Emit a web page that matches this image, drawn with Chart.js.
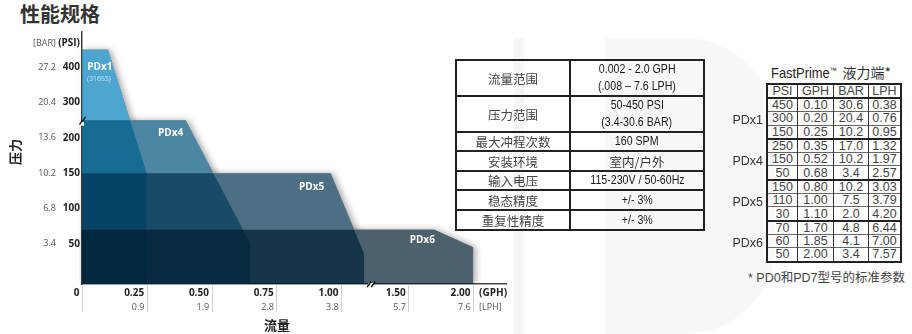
<!DOCTYPE html>
<html>
<head>
<meta charset="utf-8">
<script src="https://cdn.jsdelivr.net/npm/chart.js@4/dist/chart.umd.min.js"></script>
<style>
html,body{margin:0;padding:0;background:#fff;width:912px;height:334px;overflow:hidden;position:relative;font-family:"Liberation Sans",Arial,sans-serif;}
.bgbar{position:absolute;left:514px;top:38px;width:10px;height:296px;background:#f6f6f6;}
.bgd{position:absolute;left:605px;top:38px;width:170px;height:296px;background:#f8f8f8;border-radius:0 90px 90px 0;}
h1{position:absolute;left:20px;top:0;margin:0;font:bold 20px/28px "Noto Sans CJK SC",sans-serif;color:#333;}
#wrap{position:absolute;left:0;top:0;width:515px;height:334px;}
#spec{position:absolute;left:455px;top:59px;border-collapse:collapse;border:2px solid #222;}
#spec td{border:2px solid #222;padding:0;text-align:center;vertical-align:middle;}
#spec td.k{width:112px;font:12.5px/17px "Noto Sans CJK SC",sans-serif;color:#444;}
#spec td.v{width:132px;font:12.5px/17px "Liberation Sans",sans-serif;color:#1a1a1a;}
#spec td.v.cjk{font-family:"Noto Sans CJK SC",sans-serif;font-size:12.5px;color:#333;}
.narrow{display:inline-block;transform:scaleX(0.85);transform-origin:50% 50%;white-space:nowrap;}
#fptitle{position:absolute;left:771px;top:62px;white-space:nowrap;font:15px/20px "Liberation Sans",sans-serif;color:#222;}
#fptitle .fpn{display:inline-block;transform:scaleX(0.86);transform-origin:0 50%;margin-right:-9px;}
#fptitle sup{font-size:8px;vertical-align:top;position:relative;top:-2px;}
#fptitle span.cj{font:14px/20px "Noto Sans CJK SC",sans-serif;color:#333;}
#fp{position:absolute;left:766px;top:83px;border-collapse:collapse;border:2px solid #222;}
#fp th,#fp td{padding:0;text-align:center;font:12.5px/12px "Liberation Sans",sans-serif;color:#444;border-left:1px solid #333;border-right:1px solid #333;border-top:1px solid #666;height:12.3px;font-weight:normal;}
#fp th{border-bottom:2px solid #222;height:12px;}
#fp tr.grp td{border-top:2px solid #222;}
.fpm{position:absolute;width:40px;left:723px;text-align:right;font:12.5px/14px "Liberation Sans",sans-serif;color:#333;}
#note{position:absolute;left:748px;top:269px;white-space:nowrap;font:12.5px/16px "Liberation Sans","Noto Sans CJK SC",sans-serif;color:#444;}
#note span{font-family:"Noto Sans CJK SC",sans-serif;}
</style>
</head>
<body>
<div class="bgbar"></div>
<div class="bgd"></div>
<h1>性能规格</h1>
<div id="wrap"><canvas id="c" width="515" height="334"></canvas></div>
<table id="spec"></table>
<div id="fptitle"><span class="fpn">FastPrime<sup>™</sup></span> <span class="cj">液力端*</span></div>
<table id="fp"></table>
<div id="note">* PD0<span>和</span>PD7<span>型号的标准参数</span></div>
<script>
// ---- chart data ----
const gphTicks = [0, 0.25, 0.5, 0.75, 1.0, 1.5, 2.0];
const gphLabels = ['0', '0.25', '0.50', '0.75', '1.00', '1.50', '2.00'];
const lphLabels = ['', '0.9', '1.9', '2.8', '3.8', '5.7', '7.6'];
const psiTicks = [50, 100, 150, 200, 300, 400];
const psiLabels = ['50', '100', '150', '200', '300', '400'];
const barLabels = ['3.4', '6.8', '10.2', '13.6', '20.4', '27.2'];

const seriesNames = ['PDx1', 'PDx4', 'PDx5', 'PDx6'];
const pdx1Flow = [0, 0.10, 0.25];
const pdx1Psi = [450, 450, 150];
const pdx4Flow = [0, 0.40, 0.65];
const pdx4Psi = [250, 250, 50];
const pdx5Flow = [0, 0.96, 1.09];
const pdx5Psi = [150, 150, 35];
const pdx6Flow = [0, 1.70, 2.00];
const pdx6Psi = [70, 70, 45];

// ---- table data ----
const specLabels = ['流量范围', '压力范围', '最大冲程次数', '安装环境', '输入电压', '稳态精度', '重复性精度'];
const specValues = [['0.002 - 2.0 GPH', '(.008 – 7.6 LPH)'], ['50-450 PSI', '(3.4-30.6 BAR)'], ['160 SPM'], ['室内/户外'], ['115-230V / 50-60Hz'], ['+/- 3%'], ['+/- 3%']];
const fpHeader = ['PSI', 'GPH', 'BAR', 'LPH'];
const fpPsi = ['450', '300', '150', '250', '150', '50', '150', '110', '30', '70', '60', '50'];
const fpGph = ['0.10', '0.20', '0.25', '0.35', '0.52', '0.68', '0.80', '1.00', '1.10', '1.70', '1.85', '2.00'];
const fpBar = ['30.6', '20.4', '10.2', '17.0', '10.2', '3.4', '10.2', '7.5', '2.0', '4.8', '4.1', '3.4'];
const fpLph = ['0.38', '0.76', '0.95', '1.32', '1.97', '2.57', '3.03', '3.79', '4.20', '6.44', '7.00', '7.57'];

// ---- styling ----
const fills = ['rgba(0,128,188,0.7)', 'rgba(0,83,123,0.7)', 'rgba(0,50,80,0.7)', 'rgba(0,28,49,0.7)'];
const nameOffsets = [[-8, 18], [-15, 13], [-19, 14], [-12, 11]];
const rowHeights = [36, 35, 19, 20, 19, 20, 20];

// Broken axes: above 200 PSI the pressure axis runs at half scale;
// flow skips 1.1–1.2 GPH and runs at half scale beyond it.
function psiToAxis(p) { return p <= 200 ? p : 200 + (p - 200) / 2; }
function gphToAxis(g) {
  if (g <= 1.1) return g;
  if (g < 1.2) return 1.1 + (g - 1.1) * 0.1;
  return 1.11 + (g - 1.2) / 2;
}
const Y_MIN = -7, Y_MAX = psiToAxis(500), X_MAX = 1.637;

function toPoints(flow, psi) { return flow.map((f, i) => ({ x: gphToAxis(f), y: psiToAxis(psi[i]) })); }
const series = [toPoints(pdx1Flow, pdx1Psi), toPoints(pdx4Flow, pdx4Psi), toPoints(pdx5Flow, pdx5Psi), toPoints(pdx6Flow, pdx6Psi)];

const SANS = "'Open Sans', sans-serif";

// soft shadow on the outside of the filled regions, plus annotations
const decor = {
  id: 'decor',
  beforeDatasetsDraw(chart) {
    const a = chart.chartArea;
    const off = document.createElement('canvas');
    off.width = chart.width; off.height = chart.height;
    const o = off.getContext('2d');
    const polys = chart.data.datasets.map((d, i) => {
      const pts = chart.getDatasetMeta(i).data.map(p => [p.x, p.y]);
      pts.push([pts[pts.length - 1][0], a.bottom], [pts[0][0], a.bottom]);
      return pts;
    });
    const trace = p => { o.beginPath(); p.forEach((q, k) => k ? o.lineTo(q[0], q[1]) : o.moveTo(q[0], q[1])); o.closePath(); };
    o.save();
    o.beginPath(); o.rect(0, 0, chart.width, a.bottom); o.clip();
    o.shadowColor = 'rgba(0,0,0,0.32)'; o.shadowBlur = 6; o.shadowOffsetX = 3; o.fillStyle = '#000';
    polys.forEach(p => { trace(p); o.fill(); });
    o.restore();
    o.globalCompositeOperation = 'destination-out';
    polys.forEach(p => { trace(p); o.fill(); });
    chart.ctx.drawImage(off, 0, 0);
  },
  afterDatasetsDraw(chart) {
    const ctx = chart.ctx;
    ctx.save();
    ctx.textAlign = 'center'; ctx.textBaseline = 'middle';
    chart.data.datasets.forEach((d, i) => {
      const corner = chart.getDatasetMeta(i).data[1];
      ctx.fillStyle = '#fff';
      ctx.font = 'bold 10px ' + SANS;
      ctx.fillText(d.label, corner.x + nameOffsets[i][0], corner.y + nameOffsets[i][1]);
      if (i === 0) {
        ctx.fillStyle = 'rgba(225,238,246,0.85)';
        ctx.font = '7px ' + SANS;
        ctx.fillText('(316SS)', corner.x - 9, corner.y + 29);
      }
    });
    ctx.restore();
  },
  afterDraw(chart) {
    const ctx = chart.ctx, a = chart.chartArea, x = chart.scales.x, y = chart.scales.y, y2 = chart.scales.y2;
    ctx.save();
    // tick marks under the flow axis
    ctx.strokeStyle = '#d2d2d2'; ctx.lineWidth = 1;
    gphTicks.forEach(g => {
      const px = Math.round(x.getPixelForValue(gphToAxis(g))) + 0.5;
      ctx.beginPath(); ctx.moveTo(px, a.bottom + 1.5); ctx.lineTo(px, a.bottom + 28); ctx.stroke();
    });
    // axis breaks
    ctx.strokeStyle = '#111'; ctx.lineWidth = 1.3;
    const by = y.getPixelForValue(psiToAxis(240));
    ctx.fillStyle = '#fff'; ctx.fillRect(a.left - 2, by - 2, 4, 4);
    [[-3, 0], [0, -3]].forEach(([dx, dy]) => {
      ctx.beginPath(); ctx.moveTo(a.left - 2.5 + dx + 3, by + 1 + dy); ctx.lineTo(a.left + 0.5 + dx + 3, by - 4 + dy); ctx.stroke();
    });
    const bx = x.getPixelForValue(gphToAxis(1.15)) + 2;
    ctx.fillStyle = '#fff'; ctx.fillRect(bx - 2, a.bottom - 1, 5, 3);
    [0, 4].forEach(dx => {
      ctx.beginPath(); ctx.moveTo(bx - 3 + dx, a.bottom + 3); ctx.lineTo(bx + 1 + dx, a.bottom - 2.5); ctx.stroke();
    });
    // unit captions
    ctx.textBaseline = 'middle';
    ctx.textAlign = 'left';
    const ux = x.getPixelForValue(gphToAxis(2.0)) + 6;
    ctx.fillStyle = '#222'; ctx.font = 'bold 10px ' + SANS; ctx.fillText('(GPH)', ux, a.bottom + 9);
    ctx.fillStyle = '#555'; ctx.font = '9px ' + SANS; ctx.fillText('[LPH]', ux, a.bottom + 23);
    ctx.textAlign = 'right';
    ctx.fillStyle = '#222'; ctx.font = 'bold 10px ' + SANS; ctx.fillText('(PSI)', a.left - 2, a.top + 11);
    ctx.fillStyle = '#555'; ctx.font = '9px ' + SANS; ctx.fillText('[BAR]', y2.right, a.top + 11);
    // axis titles
    ctx.fillStyle = '#222'; ctx.textAlign = 'center';
    ctx.font = 'bold 13px "Noto Sans CJK SC", sans-serif';
    ctx.fillText('流量', (a.left + a.right) / 2 - 17, a.bottom + 41);
    ctx.translate(15, 152); ctx.rotate(-Math.PI / 2);
    ctx.fillText('压力', 0, 0);
    ctx.restore();
  }
};

const flowTicks = s => { s.ticks = gphTicks.map(g => ({ value: gphToAxis(g) })); };
const pressTicks = s => { s.ticks = psiTicks.map(p => ({ value: psiToAxis(p) })); };
const noGrid = { display: false, drawTicks: false };

new Chart(document.getElementById('c'), {
  type: 'scatter',
  data: {
    datasets: series.map((pts, i) => ({
      label: seriesNames[i], data: pts, showLine: true, fill: 'start',
      backgroundColor: fills[i], borderColor: 'transparent', borderWidth: 1,
      pointRadius: 0, order: 4 - i, tension: 0
    }))
  },
  options: {
    responsive: false, animation: false, devicePixelRatio: 1,
    layout: { padding: { top: 32, right: 9, left: 0, bottom: 0 } },
    plugins: { legend: { display: false }, tooltip: { enabled: false } },
    scales: {
      x: {
        type: 'linear', position: 'bottom', min: 0, max: X_MAX, weight: 0, z: 1,
        afterBuildTicks: flowTicks,
        ticks: { autoSkip: false, maxRotation: 0, align: 'end', padding: 3, color: '#222', font: { family: SANS, weight: 'bold', size: 10 }, callback: (v, i) => gphLabels[i] + ' ' },
        grid: noGrid, border: { display: true, color: '#444', width: 1.5 },
        afterFit: s => { s.height = 16; }
      },
      x2: {
        type: 'linear', position: 'bottom', min: 0, max: X_MAX, weight: 1,
        afterBuildTicks: flowTicks,
        ticks: { autoSkip: false, maxRotation: 0, align: 'end', padding: 2, color: '#555', font: { family: SANS, size: 9 }, callback: (v, i) => lphLabels[i] + ' ' },
        grid: noGrid, border: { display: false },
        afterFit: s => { s.height = 34; }
      },
      y: {
        type: 'linear', position: 'left', min: Y_MIN, max: Y_MAX, weight: 0, z: 1,
        afterBuildTicks: pressTicks,
        ticks: { autoSkip: false, padding: 2, color: '#222', font: { family: SANS, weight: 'bold', size: 10 }, callback: (v, i) => psiLabels[i] },
        grid: noGrid, border: { display: true, color: '#444', width: 1.5 },
        afterFit: s => { s.width = 26; }
      },
      y2: {
        type: 'linear', position: 'left', min: Y_MIN, max: Y_MAX, weight: 1,
        afterBuildTicks: pressTicks,
        ticks: { autoSkip: false, padding: 0, color: '#555', font: { family: SANS, size: 9 }, callback: (v, i) => barLabels[i] },
        grid: noGrid, border: { display: false },
        afterFit: s => { s.width = 56; }
      }
    }
  },
  plugins: [decor]
});

// ---- spec table ----
const spec = document.getElementById('spec');
specLabels.forEach((k, i) => {
  const tr = spec.insertRow();
  tr.style.height = rowHeights[i] + 'px';
  const a = tr.insertCell(); a.className = 'k'; a.textContent = k;
  const b = tr.insertCell();
  const cjk = /[\u4e00-\u9fff]/.test(specValues[i][0]);
  b.className = 'v' + (cjk ? ' cjk' : '');
  specValues[i].forEach((line, j) => {
    if (j) b.appendChild(document.createElement('br'));
    const s = document.createElement('span');
    if (!cjk) s.className = 'narrow';
    s.textContent = line;
    b.appendChild(s);
  });
});

// ---- FastPrime table ----
const fp = document.getElementById('fp');
const hr = fp.insertRow();
fpHeader.forEach((h, j) => {
  const th = document.createElement('th'); th.textContent = h;
  th.style.width = [29, 35, 34, 31][j] + 'px';
  hr.appendChild(th);
});
fpPsi.forEach((p, r) => {
  const tr = fp.insertRow();
  if (r % 3 === 0) tr.className = 'grp';
  [p, fpGph[r], fpBar[r], fpLph[r]].forEach(v => { tr.insertCell().textContent = v; });
});
seriesNames.forEach((m, g) => {
  const d = document.createElement('div');
  d.className = 'fpm'; d.textContent = m;
  d.style.top = (97 + (g * 3 + 1.5) * 13.58 + 3 - 7) + 'px';
  document.body.appendChild(d);
});
</script>
</body>
</html>
